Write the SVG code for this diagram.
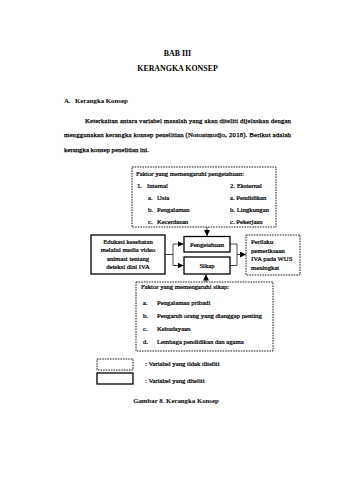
<svg xmlns="http://www.w3.org/2000/svg" width="339" height="480" viewBox="0 0 339 480">
<defs>
<style>
text{font-family:"Liberation Serif","Times New Roman",serif;fill:#000;}
.h{font-weight:bold;font-size:7.9px;text-anchor:middle;}
.hb{font-weight:bold;font-size:6.8px;}
.p{font-size:6.8px;stroke:#000;stroke-width:0.25;}
.t{font-size:6.7px;stroke:#000;stroke-width:0.24;}
.c{text-anchor:middle;}
.dash{fill:none;stroke:#000;stroke-width:0.9;stroke-dasharray:1.6 1;}
.solid{fill:none;stroke:#000;stroke-width:1.3;}
.ln{fill:none;stroke:#000;stroke-width:0.7;}
</style>
<marker id="ah" viewBox="0 0 6 6" refX="6" refY="3" markerWidth="6" markerHeight="6" markerUnits="userSpaceOnUse" orient="auto">
<path d="M0,0 L6,3 L0,6 z" fill="#000"/>
</marker>
</defs>
<rect width="339" height="480" fill="#fff"/>

<g id="header">
<text class="h" x="177.5" y="56">BAB III</text>
<text class="h" x="177.5" y="70.5">KERANGKA KONSEP</text>
<text class="hb" x="64" y="103">A.</text>
<text class="hb" x="75" y="103">Kerangka Konsep</text>
<text class="p" x="85" y="122.5" textLength="206" lengthAdjust="spacing">Keterkaitan antara variabel masalah yang akan diteliti dijelaskan dengan</text>
<text class="p" x="64" y="137" textLength="227" lengthAdjust="spacing">menggunakan kerangka konsep penelitian (Notoatmodjo, 2018). Berikut adalah</text>
<text class="p" x="64" y="152">kerangka konsep penelitian ini.</text>
</g>

<g id="connectors">
<line class="ln" x1="207" y1="227" x2="207" y2="236" marker-end="url(#ah)"/>
<line class="ln" x1="206" y1="282" x2="206" y2="274.5" marker-end="url(#ah)"/>
<polyline class="ln" points="165,254.5 173,254.5"/>
<polyline class="ln" points="173,244 173,265.5"/>
<line class="ln" x1="173" y1="244" x2="183.5" y2="244" marker-end="url(#ah)"/>
<line class="ln" x1="173" y1="265.5" x2="183.5" y2="265.5" marker-end="url(#ah)"/>
<polyline class="ln" points="230,244 237,244 237,265.5 230,265.5"/>
<line class="ln" x1="237" y1="254.5" x2="246" y2="254.5" marker-end="url(#ah)"/>
</g>

<g id="faktor-pengetahuan">
<rect class="dash" x="132" y="167" width="144" height="60"/>
<text class="t" x="136" y="175.5">Faktor yang memengaruhi pengetahuan:</text>
<text class="t" x="137" y="187.5">1.</text>
<text class="t" x="147" y="187.5">Internal</text>
<text class="t" x="148" y="200">a.</text>
<text class="t" x="157" y="200">Usia</text>
<text class="t" x="148" y="211.5">b.</text>
<text class="t" x="157" y="211.5">Pengalaman</text>
<text class="t" x="148" y="223.5">c.</text>
<text class="t" x="157" y="223.5">Kecerdasan</text>
<text class="t" x="230" y="187.5">2. Eksternal</text>
<text class="t" x="230" y="200">a. Pendidikan</text>
<text class="t" x="230" y="211.5">b. Lingkungan</text>
<text class="t" x="230" y="223.5">c. Pekerjaan</text>
</g>

<g id="edukasi">
<rect class="solid" x="91" y="235" width="74" height="39"/>
<text class="t c" x="128" y="243.5">Edukasi kesehatan</text>
<text class="t c" x="128" y="252">melalui media video</text>
<text class="t c" x="128" y="260.5">animasi tentang</text>
<text class="t c" x="128" y="269">deteksi dini IVA</text>
</g>

<g id="pengetahuan">
<rect class="solid" x="184" y="236.5" width="46" height="15.5"/>
<text class="t c" x="207" y="246.5">Pengetahuan</text>
</g>

<g id="sikap">
<rect class="solid" x="184" y="257" width="46" height="17"/>
<text class="t c" x="207" y="267.8">Sikap</text>
</g>

<g id="perilaku">
<rect class="dash" x="246" y="235" width="54" height="40"/>
<text class="t" x="251" y="244">Perilaku</text>
<text class="t" x="251" y="252.5">pemeriksaan</text>
<text class="t" x="251" y="261">IVA pada WUS</text>
<text class="t" x="251" y="269.5">meningkat</text>
</g>

<g id="faktor-sikap">
<rect class="dash" x="136" y="282" width="137" height="69"/>
<text class="t" x="141" y="289">Faktor yang memengaruhi sikap:</text>
<text class="t" x="143" y="305">a.</text>
<text class="t" x="157" y="305">Pengalaman pribadi</text>
<text class="t" x="143" y="318">b.</text>
<text class="t" x="157" y="318">Pengaruh orang yang dianggap penting</text>
<text class="t" x="143" y="331">c.</text>
<text class="t" x="157" y="331">Kebudayaan</text>
<text class="t" x="143" y="344">d.</text>
<text class="t" x="157" y="344">Lembaga pendidikan dan agama</text>
</g>

<g id="legend">
<rect class="dash" x="97" y="359" width="36" height="11"/>
<text class="t" x="145" y="366">: Variabel yang tidak diteliti</text>
<rect class="solid" x="97" y="373" width="36" height="11"/>
<text class="t" x="145" y="383">: Variabel yang diteliti</text>
</g>

<g id="caption">
<text class="hb c" x="176" y="403">Gambar 8. Kerangka Konsep</text>
</g>
</svg>
